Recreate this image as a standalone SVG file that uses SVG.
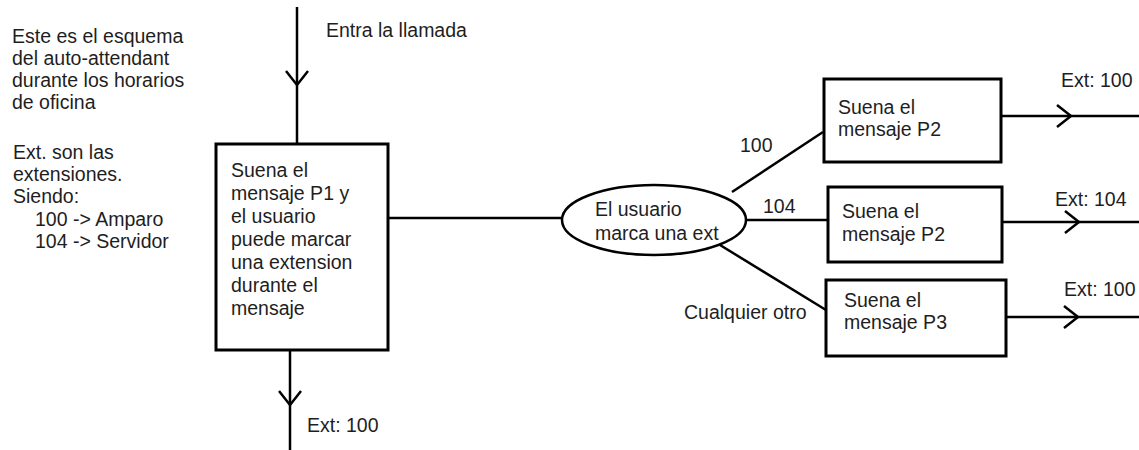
<svg xmlns="http://www.w3.org/2000/svg" width="1139" height="450" viewBox="0 0 1139 450">
<style>
.t{font-family:"Liberation Sans",Arial,sans-serif;font-size:19.5px;fill:#1e1e1e}
.box{fill:#fff;stroke:#000;stroke-width:3}
.ln{fill:none;stroke:#000;stroke-width:2.5}
.ar{fill:none;stroke:#000;stroke-width:2.5;marker-mid:url(#v)}
</style>
<defs>
<marker id="v" markerUnits="userSpaceOnUse" markerWidth="1" markerHeight="1" refX="0" refY="0" orient="auto" overflow="visible">
<path d="M-14,-11 L0,0 L-14,11" fill="none" stroke="#000" stroke-width="2.5"/>
</marker>
</defs>
<rect width="1139" height="450" fill="#fff"/>
<g id="notes">
<text class="t" x="12" y="43">Este es el esquema</text>
<text class="t" x="12" y="65">del auto-attendant</text>
<text class="t" x="12" y="87">durante los horarios</text>
<text class="t" x="12" y="109">de oficina</text>
<text class="t" x="13" y="159">Ext. son las</text>
<text class="t" x="13" y="181">extensiones.</text>
<text class="t" x="13" y="203">Siendo:</text>
<text class="t" x="35" y="226">100 -&gt; Amparo</text>
<text class="t" x="35" y="248">104 -&gt; Servidor</text>
</g>
<g id="connectors">
<polyline class="ar" points="297,7 297,85 297,144"/>
<polyline class="ar" points="290,350 290,405 290,450"/>
<line class="ln" x1="388" y1="218" x2="562" y2="218"/>
<line class="ln" x1="732" y1="192" x2="823" y2="132"/>
<line class="ln" x1="746" y1="220" x2="828" y2="220"/>
<line class="ln" x1="720" y1="245" x2="826" y2="310"/>
<polyline class="ar" points="1001,116 1071,116 1139,116"/>
<polyline class="ar" points="1002,222 1079,222 1139,222"/>
<polyline class="ar" points="1006,317 1078,317 1139,317"/>
<text class="t" x="326" y="37">Entra la llamada</text>
<text class="t" x="307" y="432">Ext: 100</text>
<text class="t" x="740" y="152">100</text>
<text class="t" x="763" y="213">104</text>
<text class="t" x="684" y="319">Cualquier otro</text>
<text class="t" x="1061" y="87">Ext: 100</text>
<text class="t" x="1055" y="206">Ext: 104</text>
<text class="t" x="1064" y="296">Ext: 100</text>
</g>
<g id="p1">
<rect class="box" x="216" y="144" width="172" height="206"/>
<text class="t" x="231" y="177">Suena el</text>
<text class="t" x="231" y="200">mensaje P1 y</text>
<text class="t" x="231" y="223">el usuario</text>
<text class="t" x="231" y="246">puede marcar</text>
<text class="t" x="231" y="269">una extension</text>
<text class="t" x="231" y="292">durante el</text>
<text class="t" x="231" y="315">mensaje</text>
</g>
<g id="decision">
<ellipse cx="654" cy="220" rx="92" ry="35" fill="#fff" stroke="#000" stroke-width="2.5"/>
<text class="t" x="595" y="216">El usuario</text>
<text class="t" x="595" y="240">marca una ext</text>
</g>
<g id="p2a">
<rect class="box" x="824" y="79" width="177" height="83"/>
<text class="t" x="838" y="114">Suena el</text>
<text class="t" x="838" y="136">mensaje P2</text>
</g>
<g id="p2b">
<rect class="box" x="828" y="187" width="174" height="75"/>
<text class="t" x="842" y="218">Suena el</text>
<text class="t" x="842" y="241">mensaje P2</text>
</g>
<g id="p3">
<rect class="box" x="826" y="280" width="180" height="76"/>
<text class="t" x="844" y="307">Suena el</text>
<text class="t" x="844" y="329">mensaje P3</text>
</g>
</svg>
